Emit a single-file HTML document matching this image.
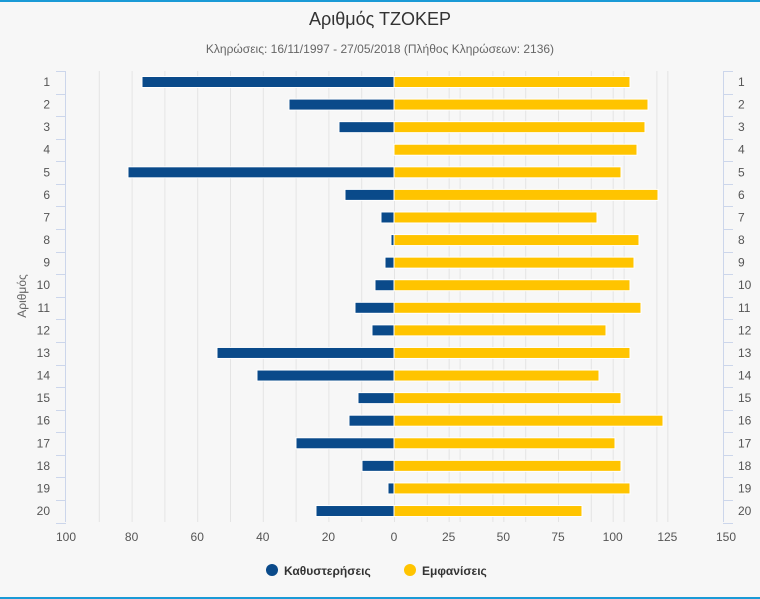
<!DOCTYPE html>
<html><head><meta charset="utf-8"><style>
html,body{margin:0;padding:0;background:#f7f7f7;}
svg{display:block;font-family:"Liberation Sans","DejaVu Sans",sans-serif;}
</style></head><body>
<svg width="760" height="599" viewBox="0 0 760 599" xmlns="http://www.w3.org/2000/svg">
<rect x="0" y="0" width="760" height="599" fill="#f7f7f7"/>
<rect x="0" y="0" width="760" height="2" fill="#1a9ad6"/>
<rect x="0" y="597" width="760" height="2" fill="#1a9ad6"/>
<text x="380" y="25" text-anchor="middle" font-size="18" fill="#333">Αριθμός ΤΖΟΚΕΡ</text>
<text x="380" y="53" text-anchor="middle" font-size="12" fill="#666">Κληρώσεις: 16/11/1997 - 27/05/2018 (Πλήθος Κληρώσεων: 2136)</text>
<g stroke="#e4e4e4" stroke-width="1" id="grid"></g>
<g id="bars"></g>
<g id="axes"></g>
<text transform="translate(26,296) rotate(-90)" text-anchor="middle" font-size="12" fill="#666">Αριθμός</text>
<circle cx="272" cy="570" r="6" fill="#0a4a8a"/>
<text x="284" y="575" font-size="12" font-weight="bold" fill="#333">Καθυστερήσεις</text>
<circle cx="410" cy="570" r="6" fill="#ffc400"/>
<text x="422" y="575" font-size="12" font-weight="bold" fill="#333">Εμφανίσεις</text>
</svg>
<script>
(function(){
var NS="http://www.w3.org/2000/svg";
function el(p,t,a,txt){var e=document.createElementNS(NS,t);for(var k in a)e.setAttribute(k,a[k]);if(txt!==undefined)e.textContent=txt;document.getElementById(p).appendChild(e);}
var T=71,B=522,sp=22.58;
for(var i=1;i<=18;i++){var x=66+32.8*i;el("grid","line",{x1:x+.5,x2:x+.5,y1:T,y2:B});}
for(var i=1;i<=5;i++){var x=394+54.67*i;el("grid","line",{x1:x+.5,x2:x+.5,y1:T,y2:B});}
var L=[142,289,339,394,128,345,381,391,385,375,355,372,217,257,358,349,296,362,388,316];
var R=[630,648,645,637,621,658,597,639,634,630,641,606,630,599,621,663,615,621,630,582];
for(var i=0;i<20;i++){var cy=82+sp*i;
 if(L[i]<394)el("bars","rect",{x:L[i],y:cy-5.5,width:394-L[i],height:11,fill:"#0a4a8a",stroke:"#fff","stroke-width":1});
 el("bars","rect",{x:394,y:cy-5.5,width:R[i]-394,height:11,fill:"#ffc400",stroke:"#fff","stroke-width":1});
 el("axes","text",{x:50,y:cy+4,"text-anchor":"end","font-size":12,fill:"#555"},String(i+1));
 el("axes","text",{x:738,y:cy+4,"text-anchor":"start","font-size":12,fill:"#555"},String(i+1));
}
el("axes","line",{x1:65.5,x2:65.5,y1:T,y2:B,stroke:"#ccd6eb"});
el("axes","line",{x1:723.5,x2:723.5,y1:T,y2:B,stroke:"#ccd6eb"});
for(var i=0;i<=20;i++){var y=Math.round(T+sp*i)+.5;
 el("axes","line",{x1:56,x2:66,y1:y,y2:y,stroke:"#ccd6eb"});
 el("axes","line",{x1:723,x2:733,y1:y,y2:y,stroke:"#ccd6eb"});}
var lt=["100","80","60","40","20"];
for(var i=0;i<5;i++)el("axes","text",{x:66+65.6*i,y:541,"text-anchor":"middle","font-size":12,fill:"#555"},lt[i]);
var rt=["0","25","50","75","100","125","150"];
for(var i=0;i<7;i++)el("axes","text",{x:394+54.67*i+(i==6?4:0),y:541,"text-anchor":"middle","font-size":12,fill:"#555"},rt[i]);
})();
</script>
</body></html>
